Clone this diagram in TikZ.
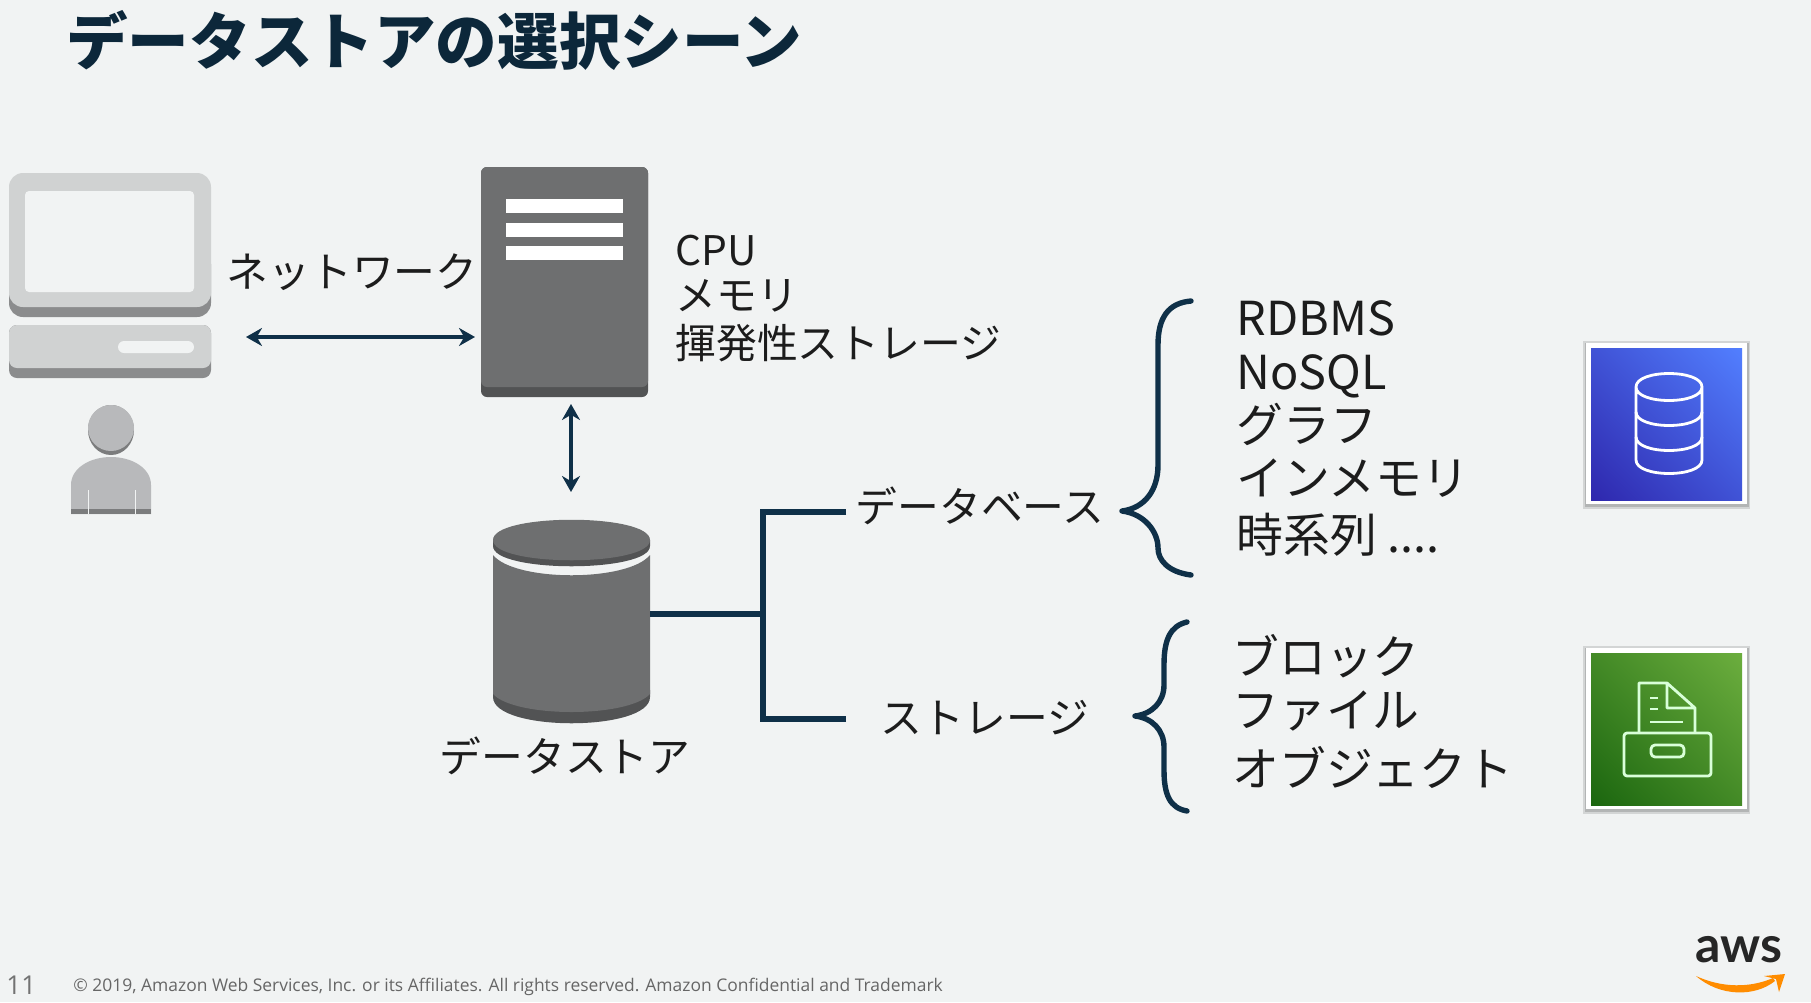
\documentclass[tikz,border=0pt]{standalone}
\usepackage{fontspec}
\usepackage{tikz}
\usetikzlibrary{arrows.meta,shadings}
\setmainfont{Noto Sans CJK JP}
\newfontfamily\footfont{Open Sans}
\newfontfamily\logofont{Lato}
\definecolor{bgcol}{HTML}{F1F3F3}
\definecolor{navy}{HTML}{0F3048}
\definecolor{inkcol}{HTML}{1C1C1C}
\definecolor{srvcol}{HTML}{6E6F70}
\definecolor{srvdark}{HTML}{525354}
\definecolor{pclight}{HTML}{D0D2D2}
\definecolor{pcdark}{HTML}{8B8C8D}
\definecolor{usrlight}{HTML}{B8B9BB}
\definecolor{usrdark}{HTML}{7B7C7D}

\begin{document}
\begin{tikzpicture}[x=0.5pt, y=-0.5pt,
    label/.style={inner sep=0pt, text=inkcol, font=\fontsize{20.9}{21}\selectfont},
    spec/.style={inner sep=0pt, text=inkcol, anchor=west, font=\fontsize{20.4}{21}\selectfont},
    kind/.style={inner sep=0pt, text=inkcol, anchor=west, font=\fontsize{23.4}{24}\selectfont},
    link/.style={navy, line width=2.8pt},
    twoway/.style={navy, line width=2pt, {Stealth[length=8pt,width=9pt]}-{Stealth[length=8pt,width=9pt]}},
    curly/.style={navy, line width=2.7pt, line cap=round, line join=round},
    glyph/.style={line width=1.4pt, line join=round}]
  \fill[bgcol] (0,0) rectangle (1811,1002);
  \useasboundingbox (0,0) rectangle (1811,1002);

  \node[anchor=west, inner sep=0pt, text=navy!80!black, font=\fontsize{30.8}{31}\selectfont\bfseries] (title) at (66,40) {データストアの選択シーン};

  % pc and user
  \fill[pcdark, rounded corners=7pt] (9,250) rectangle (211,317);
  \fill[pclight, rounded corners=7pt] (9,173) rectangle (211,307);
  \fill[bgcol, rounded corners=2pt] (25,191) rectangle (194,292);
  \fill[pcdark, rounded corners=4pt] (9,325) rectangle (211,378);
  \fill[pclight, rounded corners=4pt] (9,325) rectangle (211,368);
  \fill[bgcol, rounded corners=3pt] (118,341) rectangle (194,353);
  \fill[usrdark] (111,430) ellipse [x radius=23, y radius=25];
  \fill[usrlight] (111,428) ellipse [x radius=23, y radius=23];
  \fill[usrlight] (71,514) -- (71,485) .. controls (71,468) and (90,457) .. (111,457) .. controls (132,457) and (151,468) .. (151,485) -- (151,514) -- cycle;
  \fill[usrdark] (71,509) rectangle (151,514);
  \foreach \x in {88,135} {
    \draw[bgcol, line width=0.5pt] (\x,490) -- (\x,514);
  }

  % server
  \node[fill=srvdark, rounded corners=3pt, minimum width=83.5pt, minimum height=115pt, inner sep=0pt] (server) at (564.5,282) {};
  \fill[srvcol, rounded corners=3pt] (481,167) rectangle (648,387);
  \foreach \y in {199,223,246} {
    \fill[white] (506,\y) rectangle (623,\y+14);
  }

  % data store
  \node[inner sep=0pt, minimum width=78.5pt, minimum height=102pt] (store) at (571.5,621) {};
  \fill[srvdark] (493,690) -- (650,690) -- (650,697) .. controls (650,732) and (493,732) .. (493,697) -- cycle;
  \fill[srvcol] (493,555) .. controls (515,582) and (628,582) .. (650,555) -- (650,694) .. controls (628,718) and (515,718) .. (493,694) -- cycle;
  \fill[srvdark] (493,540) -- (650,540) -- (650,546) .. controls (650,573) and (493,573) .. (493,546) -- cycle;
  \fill[srvcol] (493,540) .. controls (493,513) and (650,513) .. (650,540) .. controls (650,567) and (493,567) .. (493,540) -- cycle;

  % connectors
  \coordinate (netL) at (246,337);
  \coordinate (netR) at (475,337);
  \coordinate (srvB) at (571,404);
  \coordinate (dsT) at (571,492);
  \coordinate (fork) at (763,614);
  \coordinate (dbEnd) at (846,512);
  \coordinate (stEnd) at (846,719);
  \draw[twoway] (netL) -- (netR);
  \draw[twoway] (srvB) -- (dsT);
  \draw[link] (store.east |- fork) -- (fork);
  \draw[link] (dbEnd) -| (fork);
  \draw[link] (stEnd) -| (fork);

  % labels
  \node[label] (netlabel) at (352,272) {ネットワーク};
  \node[label] (dslabel) at (565,756) {データストア};
  \node[label] (dblabel) at (980,506) {データベース};
  \node[label] (stlabel) at (985,718) {ストレージ};
  \foreach \y/\t in {251/CPU,296/メモリ,343/揮発性ストレージ} {
    \node[spec] at (675,\y) {\t};
  }
  \foreach \y/\t in {318/RDBMS,376/NoSQL,424/グラフ,478/インメモリ} {
    \node[kind] at (1236,\y) {\t};
  }
  \node[kind] (tslabel) at (1236,535) {時系列 ....};
  \foreach \y/\t in {656/ブロック,711/ファイル,767/オブジェクト} {
    \node[kind] at (1232,\y) {\t};
  }

  % braces
  \draw[curly] (1191,301) .. controls (1168,303) and (1158,318) .. (1158,345) -- (1158,465)
    .. controls (1158,490) and (1145,508) .. (1122,511)
    .. controls (1145,514) and (1158,532) .. (1158,548)
    .. controls (1158,560) and (1168,572) .. (1191,575);
  \draw[curly] (1187,622) .. controls (1170,626) and (1164,640) .. (1164,665) -- (1164,685)
    .. controls (1164,702) and (1152,714) .. (1135,716)
    .. controls (1152,718) and (1164,730) .. (1164,747) -- (1164,770)
    .. controls (1164,795) and (1170,808) .. (1187,811);

  % service icons
  \foreach \y/\a/\b in {343/2E27AD/527FFF,648/1B660F/6CAE3E} {
    \definecolor{lowcol}{HTML}{\a}
    \definecolor{highcol}{HTML}{\b}
    \fill[black, opacity=0.12] (1583,\y-2) rectangle (1750,\y+166);
    \fill[black, opacity=0.15] (1585,\y) rectangle (1749,\y+164);
    \fill[white] (1586,\y) rectangle (1747,\y+161);
    \shade[lower left=lowcol, upper right=highcol, lower right=lowcol!50!highcol, upper left=lowcol!50!highcol] (1591,\y+5) rectangle (1742,\y+157);
  }
  \draw[glyph, white] (1636,387) .. controls (1636,369) and (1702,369) .. (1702,387) .. controls (1702,405) and (1636,405) .. (1636,387) -- (1636,460) .. controls (1636,478) and (1702,478) .. (1702,460) -- (1702,387);
  \foreach \y in {412,437} {
    \draw[glyph, white] (1636,\y) .. controls (1636,\y+18) and (1702,\y+18) .. (1702,\y);
  }
  \draw[glyph, green!15!white] (1639,733) -- (1639,683) -- (1667,683) -- (1695,708) -- (1695,733) (1667,683) -- (1667,708) -- (1695,708);
  \draw[glyph, green!15!white, rounded corners=1.5pt] (1624,733) rectangle (1711,776);
  \draw[glyph, green!15!white, rounded corners=2pt] (1651,745) rectangle (1684,757);
  \draw[glyph, green!15!white] (1650,698) -- (1658,698) (1650,709) -- (1658,709) (1650,722) -- (1683,722);

  % footer
  \node[anchor=west, inner sep=0pt, text=black!55, font=\footfont\fontsize{13}{13}\selectfont] (pageno) at (6,985) {11};
  \node[anchor=west, inner sep=0pt, text=black!60, font=\footfont\fontsize{8.72}{10}\selectfont] (legal) at (73,987) {© 2019, Amazon Web Services, Inc. or its Affiliates. All rights reserved. Amazon Confidential and Trademark};
  \node[inner sep=0pt, text=black!85, font=\logofont\bfseries\fontsize{25}{25}\selectfont] (awslogo) at (1739,950) {aws};
  \fill[orange!90!yellow] (1696,976) .. controls (1720,997) and (1755,997) .. (1775,981) -- (1773,978) .. controls (1750,988) and (1722,988) .. (1696,976) -- cycle;
  \fill[orange!90!yellow] (1764,976) -- (1785,974) -- (1779,992) -- (1776,979) -- cycle;
\end{tikzpicture}
\end{document}
